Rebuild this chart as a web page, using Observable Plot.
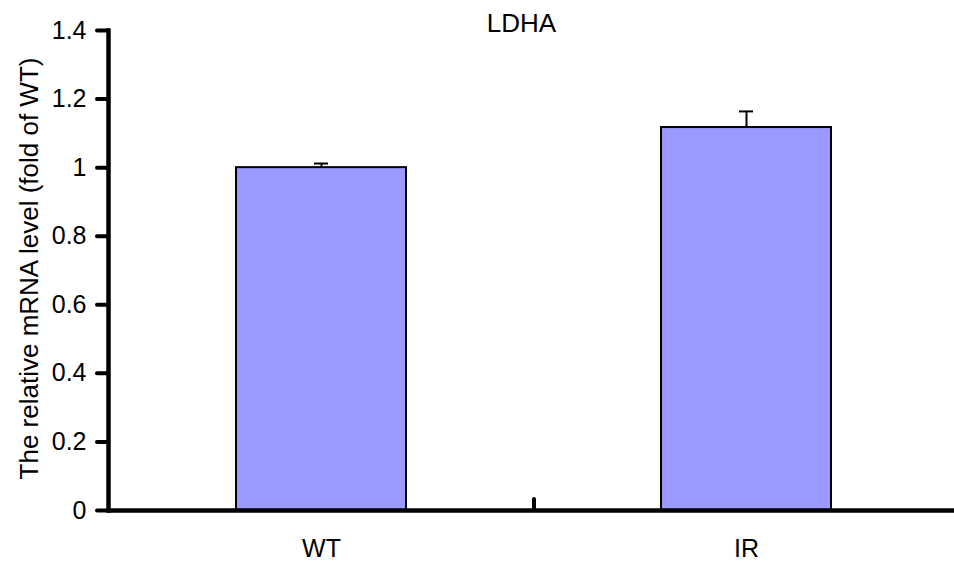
<!DOCTYPE html>
<html>
<head>
<meta charset="utf-8">
<script src="https://cdn.jsdelivr.net/npm/d3@7"></script>
<script src="https://cdn.jsdelivr.net/npm/@observablehq/plot@0.6"></script>
<style>
  html, body { margin: 0; padding: 0; background: #fff; }
  #chart svg { display: block; }
</style>
</head>
<body>
<div id="chart"></div>
<script>
// LDHA relative mRNA expression, fold of WT
const groups = ["WT", "IR"];
const means = [1.0, 1.117];
const errors = [0.012, 0.047];
const yTicks = [0, 0.2, 0.4, 0.6, 0.8, 1.0, 1.2, 1.4];
const yTickLabels = ["0", "0.2", "0.4", "0.6", "0.8", "1", "1.2", "1.4"];
const title = "LDHA";
const yTitle = "The relative mRNA level (fold of WT)";

const rows = groups.map((g, i) => ({group: g, mean: means[i], err: errors[i], top: means[i] + errors[i]}));

const font = "'Liberation Sans', Arial, sans-serif";
const step = 425; // band step of the x scale: (958 - 108) / 2

const chart = Plot.plot({
  width: 954,
  height: 565,
  marginLeft: 108,
  marginRight: 0,
  marginTop: 30,
  marginBottom: 55,
  style: {fontFamily: font, fontSize: "25px", color: "#000", background: "#fff"},
  x: {domain: groups, range: [108, 958], paddingInner: 0.6, paddingOuter: 0.3, label: null},
  y: {domain: [0, 1.4], label: null},
  marks: [
    Plot.barY(rows, {x: "group", y: "mean", fill: "#9999ff", stroke: "#000", strokeWidth: 2}),
    // upper error whiskers
    Plot.ruleX(rows, {x: "group", y1: "mean", y2: "top", stroke: "#000", strokeWidth: 2}),
    Plot.tickY(rows, {x: "group", y: "top", stroke: "#000", strokeWidth: 2, insetLeft: 78, insetRight: 78}),
    // axes
    Plot.frame({anchor: "left", stroke: "#000", strokeWidth: 4.5}),
    Plot.ruleY([0], {stroke: "#000", strokeWidth: 4.5}),
    Plot.axisY({
      ticks: yTicks,
      tickFormat: (d) => yTickLabels[yTicks.indexOf(d)],
      tickSize: 11,
      tickPadding: 11,
      strokeWidth: 4,
      strokeLinecap: "round",
      fontSize: 25,
      label: null
    }),
    Plot.axisX({tickSize: 0, tickPadding: 29, fontSize: 25, label: null}),
    // category divider tick between the two groups
    Plot.ruleX(["IR"], {x: (d) => d, y1: 0, y2: 0.032, dx: -step / 2, stroke: "#000", strokeWidth: 4, strokeLinecap: "round"}),
    // chart title and y-axis title
    Plot.text([title], {frameAnchor: "top", lineAnchor: "bottom", dy: 1, dx: -10, fontSize: 26, fill: "#000"}),
    Plot.text([yTitle], {frameAnchor: "left", textAnchor: "middle", rotate: -90, lineAnchor: "bottom", dx: -71, dy: -2, fontSize: 26, fill: "#000"})
  ]
});

document.getElementById("chart").appendChild(chart);
</script>
</body>
</html>
